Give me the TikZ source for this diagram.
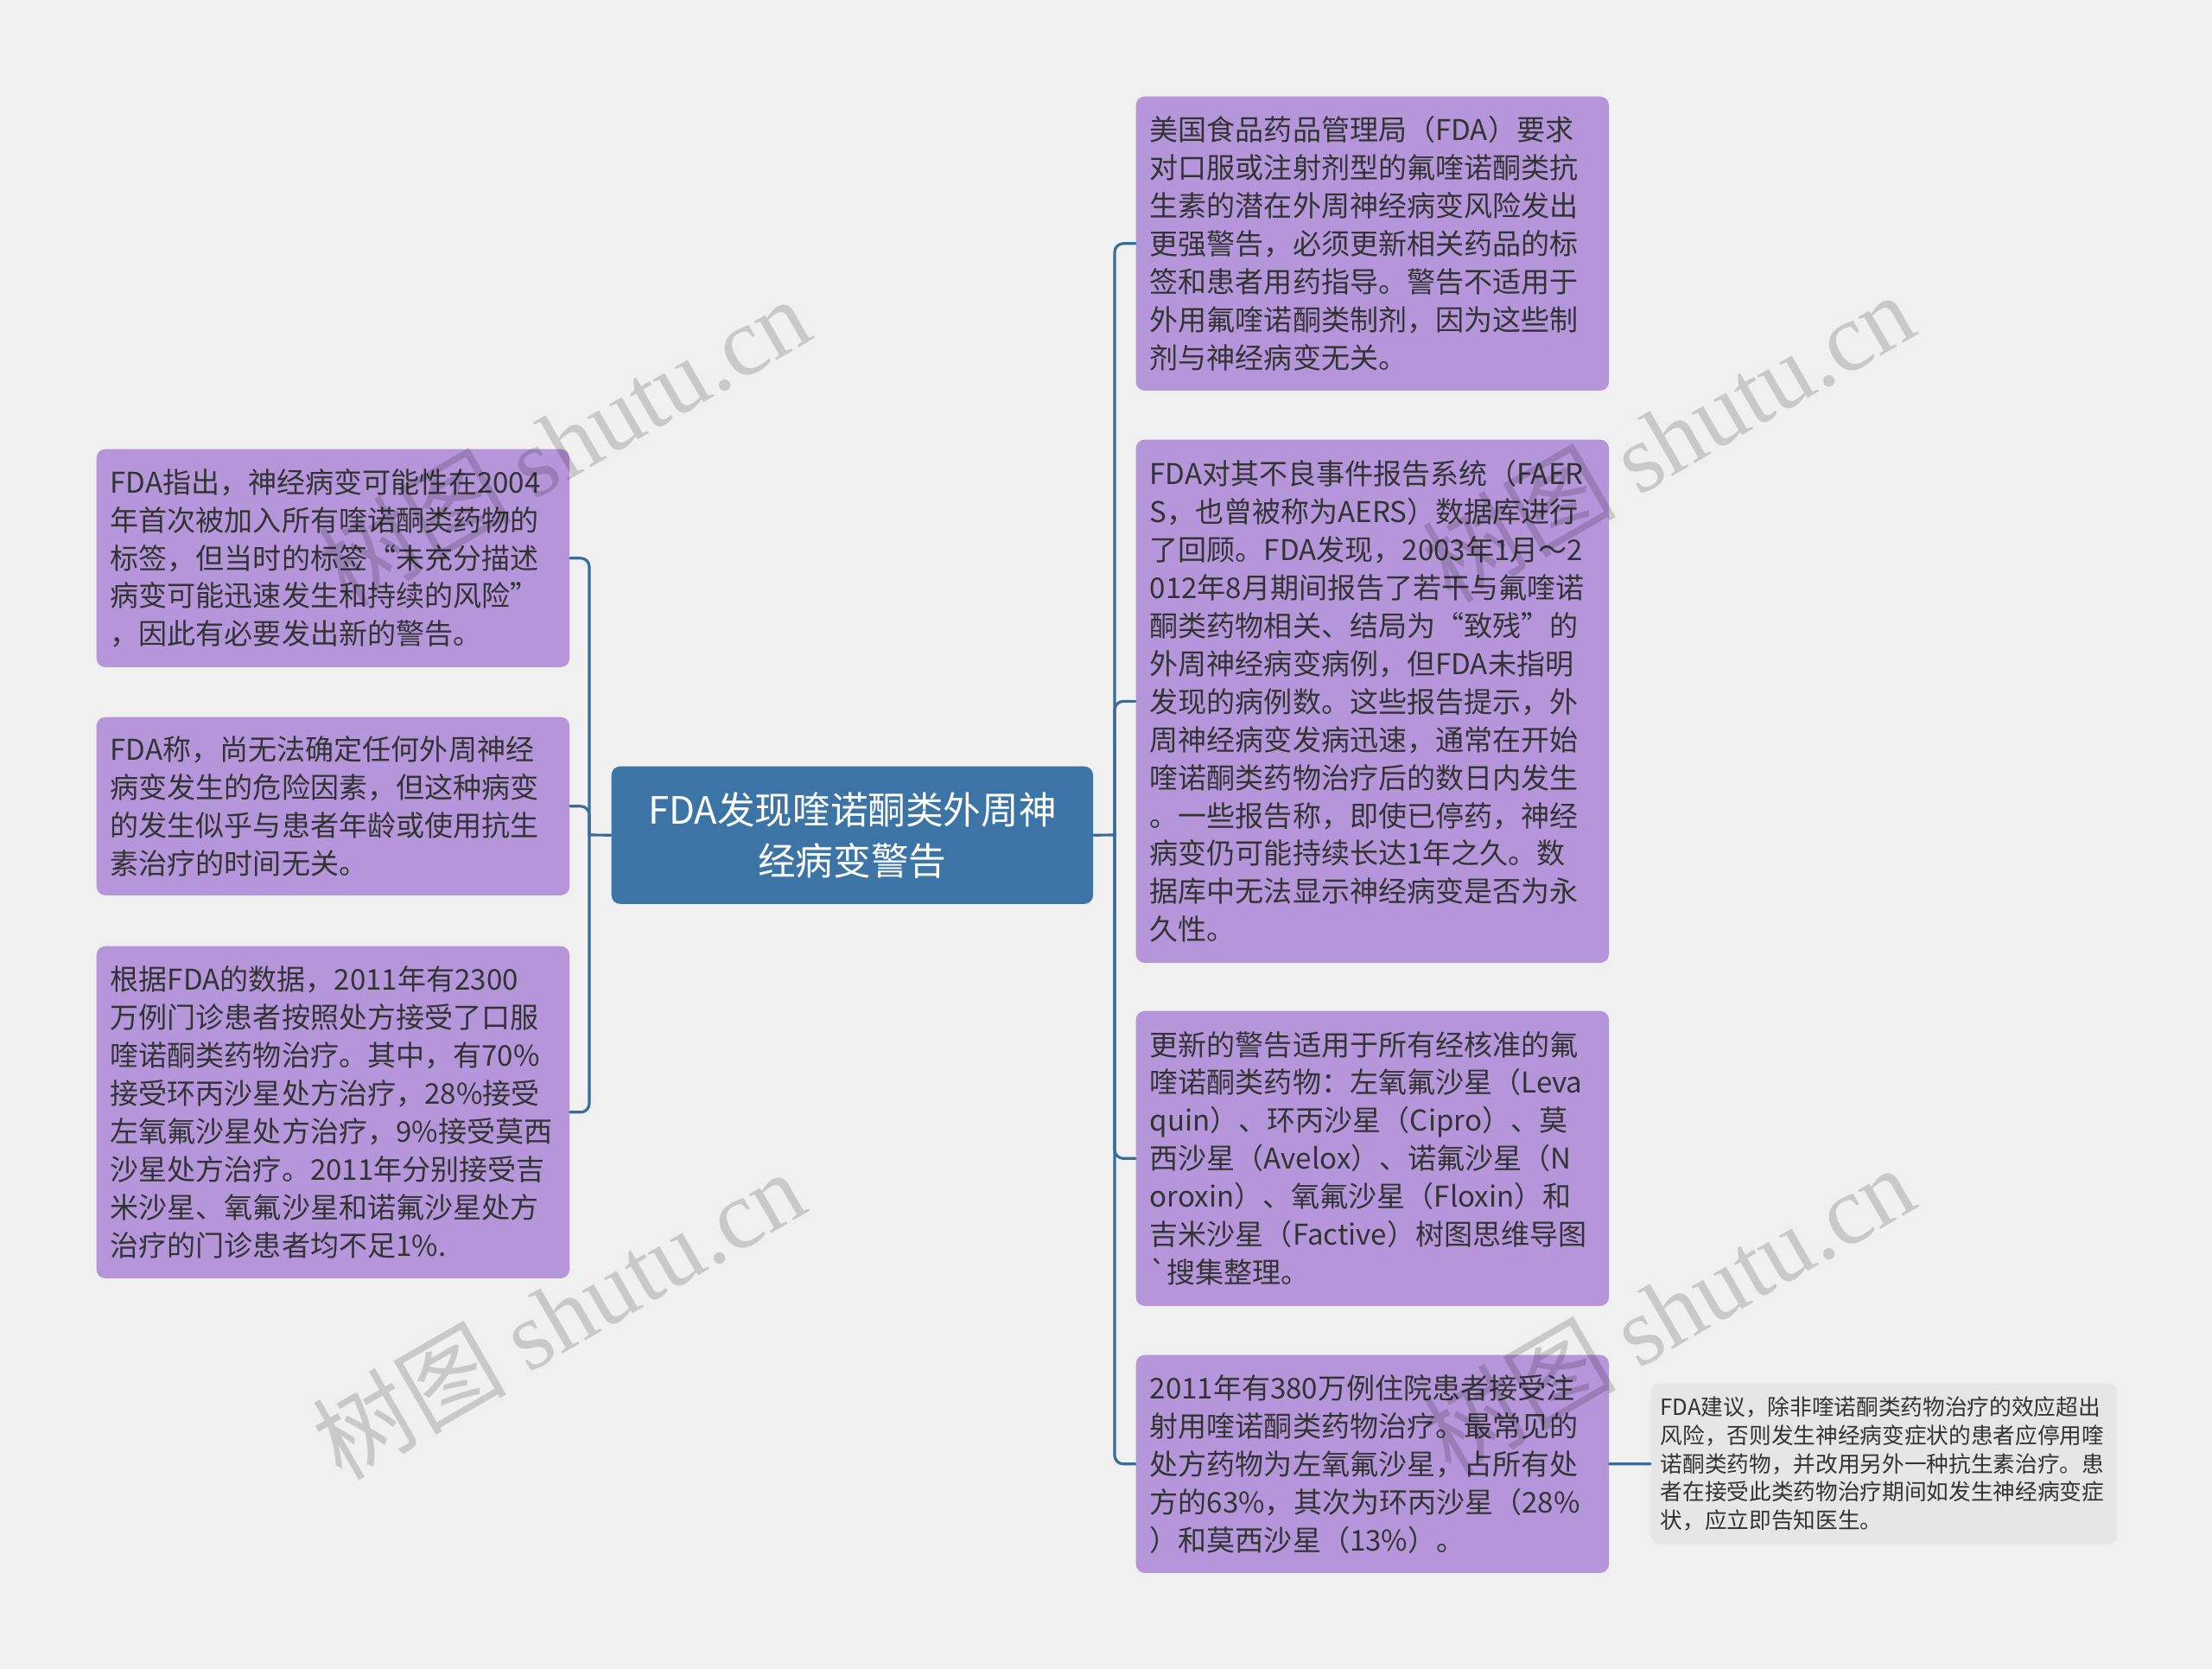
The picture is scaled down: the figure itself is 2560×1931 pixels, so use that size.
\documentclass[tikz,border=0pt]{standalone}
\usepackage{fontspec}
\setmainfont{Noto Sans CJK SC}
\newfontfamily\wmfont{Liberation Serif}
\definecolor{bgcol}{HTML}{F0F0F0}
\definecolor{leafcol}{HTML}{B696DA}
\definecolor{rootcol}{HTML}{3C74A6}
\definecolor{linkcol}{HTML}{3A6C9A}
\definecolor{notecol}{HTML}{E6E6E6}
\definecolor{inkcol}{HTML}{333333}
\begin{document}
\begin{tikzpicture}[x=0.01cm,y=-0.01cm,line join=round,line cap=round,
	leaf/.style={anchor=north west,fill=leafcol,rounded corners=0.1cm,text=inkcol,align=left,
		font=\fontsize{9.4}{12.5}\selectfont,inner xsep=0.16cm,inner ysep=0pt,text width=5.15cm},
	rootbox/.style={anchor=north west,fill=rootcol,rounded corners=0.1cm,text=white,align=center,
		font=\fontsize{12.4}{16.8}\selectfont,minimum width=5.57cm,minimum height=1.59cm},
	notebox/.style={anchor=north west,fill=notecol,rounded corners=0.1cm,text=inkcol,align=left,
		font=\fontsize{7.3}{9.3}\selectfont,inner xsep=0.11cm,inner ysep=0pt,text width=5.17cm,minimum height=1.86cm},
	branch/.style={draw=linkcol,line width=0.9pt,rounded corners=0.1cm},
	wmtext/.style={rotate=30,text=black,text opacity=0.16,font=\fontsize{32}{36}\selectfont}]
	\fill[bgcol] (0,0) rectangle (2560,1931);
	\useasboundingbox (0,0) rectangle (2560,1931);
	\coordinate (lhub) at (682,966);
	\coordinate (rhub) at (1290,966);
	\node[rootbox] (root) at (707,886) {FDA发现喹诺酮类外周神\\经病变警告};
	\node[leaf,minimum height=2.52cm] (L1) at (111,519) {FDA指出，神经病变可能性在2004\\年首次被加入所有喹诺酮类药物的\\标签，但当时的标签“未充分描述\\病变可能迅速发生和持续的风险”\\，因此有必要发出新的警告。};
	\node[leaf,minimum height=2.06cm] (L2) at (111,829) {FDA称，尚无法确定任何外周神经\\病变发生的危险因素，但这种病变\\的发生似乎与患者年龄或使用抗生\\素治疗的时间无关。};
	\node[leaf,minimum height=3.84cm] (L3) at (111,1094) {根据FDA的数据，2011年有2300\\万例门诊患者按照处方接受了口服\\喹诺酮类药物治疗。其中，有70\%\\接受环丙沙星处方治疗，28\%接受\\左氧氟沙星处方治疗，9\%接受莫西\\沙星处方治疗。2011年分别接受吉\\米沙星、氧氟沙星和诺氟沙星处方\\治疗的门诊患者均不足1\%.};
	\node[leaf,minimum height=3.40cm] (R1) at (1314,111) {美国食品药品管理局（FDA）要求\\对口服或注射剂型的氟喹诺酮类抗\\生素的潜在外周神经病变风险发出\\更强警告，必须更新相关药品的标\\签和患者用药指导。警告不适用于\\外用氟喹诺酮类制剂，因为这些制\\剂与神经病变无关。};
	\node[leaf,minimum height=6.05cm] (R2) at (1314,508) {FDA对其不良事件报告系统（FAER\\S，也曾被称为AERS）数据库进行\\了回顾。FDA发现，2003年1月～2\\012年8月期间报告了若干与氟喹诺\\酮类药物相关、结局为“致残”的\\外周神经病变病例，但FDA未指明\\发现的病例数。这些报告提示，外\\周神经病变发病迅速，通常在开始\\喹诺酮类药物治疗后的数日内发生\\。一些报告称，即使已停药，神经\\病变仍可能持续长达1年之久。数\\据库中无法显示神经病变是否为永\\久性。};
	\node[leaf,minimum height=3.41cm] (R3) at (1314,1169) {更新的警告适用于所有经核准的氟\\喹诺酮类药物：左氧氟沙星（Leva\\quin）、环丙沙星（Cipro）、莫\\西沙星（Avelox）、诺氟沙星（N\\oroxin）、氧氟沙星（Floxin）和\\吉米沙星（Factive）树图思维导图\\\textasciigrave 搜集整理。};
	\node[leaf,minimum height=2.52cm] (R4) at (1314,1567) {2011年有380万例住院患者接受注\\射用喹诺酮类药物治疗。最常见的\\处方药物为左氧氟沙星，占所有处\\方的63\%，其次为环丙沙星（28\%\\）和莫西沙星（13\%）。};
	\node[notebox] (note) at (1910,1600) {FDA建议，除非喹诺酮类药物治疗的效应超出\\风险，否则发生神经病变症状的患者应停用喹\\诺酮类药物，并改用另外一种抗生素治疗。患\\者在接受此类药物治疗期间如发生神经病变症\\状，应立即告知医生。};
	\draw[branch] (root.west) -- (lhub);
	\draw[branch] (lhub) |- (L1.east);
	\draw[branch] (lhub) |- (L2.east);
	\draw[branch] (lhub) |- (L3.east);
	\draw[branch] (root.east) -- (rhub);
	\draw[branch] (rhub) |- (R1.west);
	\draw[branch] (rhub) |- (R2.west);
	\draw[branch] (rhub) |- (R3.west);
	\draw[branch] (rhub) |- (R4.west);
	\draw[branch] (R4.east) -- (note.west);
	\node[wmtext] (wm1) at (652,510) {树图 {\wmfont shutu.cn}};
	\node[wmtext] (wm2) at (1930,505) {树图 {\wmfont shutu.cn}};
	\node[wmtext] (wm3) at (646,1520) {树图 {\wmfont shutu.cn}};
	\node[wmtext] (wm4) at (1930,1515) {树图 {\wmfont shutu.cn}};
\end{tikzpicture}
\end{document}
